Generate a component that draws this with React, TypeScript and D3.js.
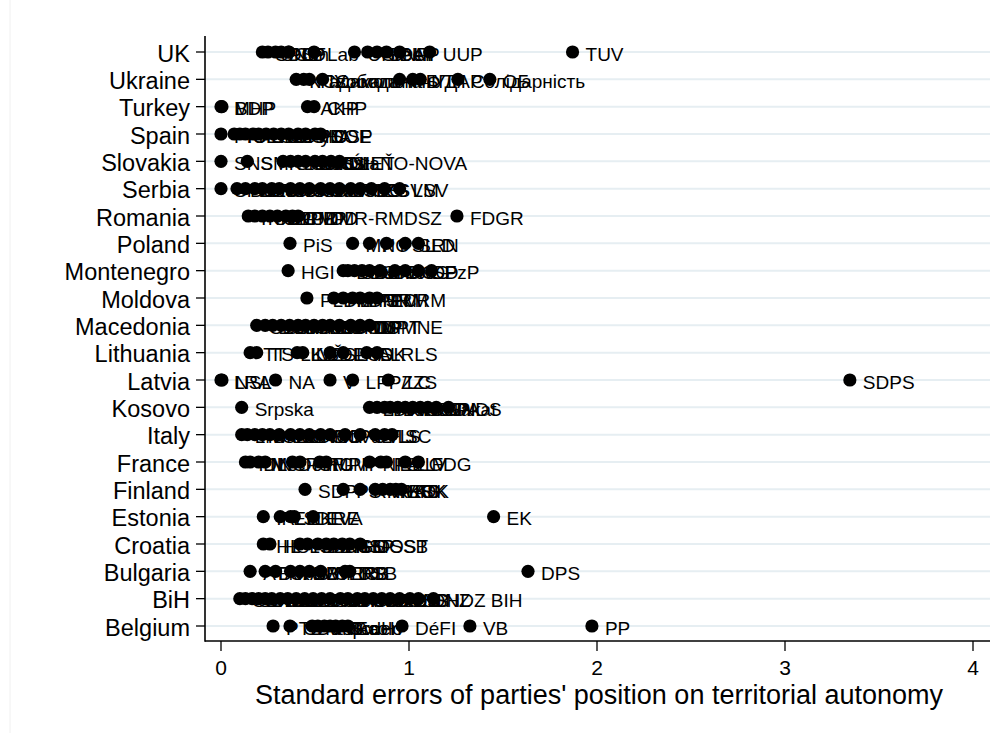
import { useEffect, useRef } from "react";
import * as d3 from "d3";

// countries, top to bottom as they appear on the y axis
const countries = [
  "UK", "Ukraine", "Turkey", "Spain", "Slovakia", "Serbia", "Romania", "Poland",
  "Montenegro", "Moldova", "Macedonia", "Lithuania", "Latvia", "Kosovo", "Italy",
  "France", "Finland", "Estonia", "Croatia", "Bulgaria", "BiH", "Belgium",
];

const xTicks = [0, 1, 2, 3, 4];
const xTitle = "Standard errors of parties' position on territorial autonomy";

// [party label, standard error]
const ukParties: [string, number][] = [
  ["SDLP", 0.22], ["SNP", 0.25], ["PC", 0.29], ["Con", 0.32], ["LD", 0.36],
  ["SF", 0.36], ["Lab", 0.495], ["UKIP", 0.71], ["Green", 0.78], ["BNP", 0.83],
  ["DUP", 0.88], ["All", 0.95], ["UUP", 1.11], ["TUV", 1.87],
];
const ukraineParties: [string, number][] = [
  ["КПУ", 0.4], ["Радикальна", 0.44], ["Свобода", 0.47], ["Самопоміч", 0.54],
  ["НФ", 0.95], ["БПП", 1.02], ["УДАР", 1.06], ["Солідарність", 1.26], ["ОБ", 1.43],
];
const turkeyParties: [string, number][] = [
  ["MHP", 0], ["BDP", 0.005], ["AKP", 0.46], ["CHP", 0.495],
];
const spainParties: [string, number][] = [
  ["PP", 0], ["IU", 0.07], ["CiU", 0.1], ["PNV", 0.13], ["ERC", 0.17], ["BNG", 0.2],
  ["CC", 0.24], ["EA", 0.28], ["UPyD", 0.32], ["Cs", 0.36], ["CHA", 0.41],
  ["PSOE", 0.45], ["IC", 0.5], ["DSP", 0.53],
];
const slovakiaParties: [string, number][] = [
  ["SNS", 0], ["SMK", 0.14], ["Smer", 0.33], ["ĽSNS", 0.37], ["SDKÚ", 0.41],
  ["SaS", 0.45], ["Most", 0.5], ["KDH", 0.54], ["SIEŤ", 0.63], ["OĽaNO-NOVA", 0.585],
];
const serbiaParties: [string, number][] = [
  ["SPS", 0], ["DS", 0.085], ["DSS", 0.13], ["SRS", 0.18], ["LDP", 0.22],
  ["URS", 0.27], ["SDPS", 0.31], ["SNS", 0.37], ["SVM", 0.42], ["SDA", 0.47],
  ["PUPS", 0.53], ["JS", 0.58], ["DJB", 0.63], ["SPO", 0.69], ["NS", 0.74],
  ["ZS", 0.8], ["SVM", 0.87], ["LSV", 0.95],
];
const romaniaParties: [string, number][] = [
  ["PSD", 0.145], ["PNL", 0.18], ["PDL", 0.22], ["UNPR", 0.26], ["PC", 0.3],
  ["PP-DD", 0.345], ["PMP", 0.38], ["UDMR-RMDSZ", 0.41], ["FDGR", 1.255],
];
const polandParties: [string, number][] = [
  ["PiS", 0.367], ["MN", 0.7], ["PO", 0.79], ["PSL", 0.88], ["SLD", 0.98], ["RN", 1.05],
];
const montenegroParties: [string, number][] = [
  ["HGI", 0.357], ["DPS", 0.65], ["SDP", 0.675], ["SNP", 0.71], ["Demos", 0.75],
  ["URA", 0.79], ["BS", 0.845], ["DCG", 0.925], ["NSD", 0.98], ["DF", 1.05], ["PzP", 1.12],
];
const moldovaParties: [string, number][] = [
  ["PLDM", 0.457], ["PL", 0.6], ["PDM", 0.65], ["PPEM", 0.7], ["PSRM", 0.74],
  ["PN", 0.79], ["PCRM", 0.83],
];
const macedoniaParties: [string, number][] = [
  ["SDSM", 0.19], ["DUI", 0.235], ["DPA", 0.275], ["LDP", 0.32], ["NSDP", 0.365],
  ["VMRO-DPMNE", 0.41], ["Besa", 0.45], ["NDP", 0.495], ["LP", 0.54], ["SPM", 0.58],
  ["DOM", 0.63], ["PDP", 0.69], ["DS", 0.74], ["DPT", 0.79],
];
const lithuaniaParties: [string, number][] = [
  ["TT", 0.155], ["TS-LKD", 0.19], ["LVŽS", 0.405], ["LSDP", 0.435], ["LLRA", 0.58],
  ["LCS", 0.65], ["DK", 0.775], ["LRLS", 0.83],
];
const latviaParties: [string, number][] = [
  ["LRA", 0], ["NSL", 0.005], ["NA", 0.29], ["V", 0.58], ["LPP/LC", 0.7],
  ["ZZS", 0.89], ["SDPS", 3.345],
];
const kosovoParties: [string, number][] = [
  ["Srpska", 0.11], ["LDK", 0.79], ["PDK", 0.83], ["AAK", 0.87], ["VV", 0.9],
  ["AKR", 0.94], ["KDTP", 0.98], ["SLS", 1.02], ["JGP", 1.06], ["SDA", 1.1],
  ["Vakat", 1.145], ["NDS", 1.21],
];
const italyParties: [string, number][] = [
  ["LN", 0.11], ["PD", 0.14], ["FI", 0.18], ["M5S", 0.22], ["SEL", 0.26],
  ["FdI", 0.31], ["UDC", 0.37], ["SVP", 0.42], ["NCD", 0.47], ["RC", 0.53],
  ["IdV", 0.58], ["PdL", 0.66], ["UV", 0.74], ["FLI", 0.82], ["LS", 0.87], ["SC", 0.91],
];
const franceParties: [string, number][] = [
  ["FN", 0.13], ["DLF", 0.155], ["MoDem", 0.2], ["NC", 0.235], ["PCF", 0.38],
  ["PRG", 0.42], ["MPF", 0.525], ["UMP", 0.56], ["NPA", 0.79], ["PS", 0.85],
  ["EELV", 0.88], ["LO", 0.98], ["FDG", 1.05],
];
const finlandParties: [string, number][] = [
  ["SDP", 0.447], ["PS", 0.65], ["RKP", 0.74], ["VIHR", 0.82], ["KESK", 0.86],
  ["VAS", 0.9], ["KOK", 0.93], ["KD", 0.96],
];
const estoniaParties: [string, number][] = [
  ["IRL", 0.225], ["ER", 0.315], ["SDE", 0.37], ["EKRE", 0.39], ["EVA", 0.49], ["EK", 1.45],
];
const croatiaParties: [string, number][] = [
  ["HL", 0.225], ["HSLS", 0.26], ["HDZ", 0.42], ["SDP", 0.46], ["HNS", 0.515],
  ["IDS", 0.56], ["HSS", 0.6], ["HSP", 0.645], ["HDSSB", 0.685], ["MOST", 0.74],
];
const bulgariaParties: [string, number][] = [
  ["ATAKA", 0.155], ["BSP", 0.235], ["NFSB", 0.29], ["ABV", 0.37], ["BBT", 0.42],
  ["VMRO", 0.47], ["GERB", 0.53], ["DSB", 0.66], ["RB", 0.685], ["DPS", 1.633],
];
const bihParties: [string, number][] = [
  ["SDA", 0.1], ["SDP", 0.13], ["SNSD", 0.165], ["SDS", 0.2], ["PDP", 0.235],
  ["HDZ 1990", 0.27], ["SBB", 0.315], ["DF", 0.355], ["NS", 0.4], ["BPS", 0.445],
  ["DNS", 0.49], ["SBiH", 0.535], ["NDP", 0.58], ["A-SDA", 0.635], ["HSP", 0.675],
  ["HSS", 0.725], ["NSRzB", 0.765], ["SP", 0.81], ["BOSS", 0.855], ["LDS", 0.9],
  ["GS", 0.95], ["NB", 1.005], ["DNZ", 1.05], ["HDZ BIH", 1.13],
];
const belgiumParties: [string, number][] = [
  ["PTB", 0.277], ["CD&V", 0.367], ["N-VA", 0.485], ["MR", 0.515], ["PS", 0.55],
  ["sp.a", 0.58], ["Groen", 0.61], ["Ecolo", 0.645], ["cdH", 0.675], ["DéFI", 0.963],
  ["VB", 1.324], ["PP", 1.973],
];

const partiesByCountry: [string, [string, number][]][] = [
  ["UK", ukParties], ["Ukraine", ukraineParties], ["Turkey", turkeyParties],
  ["Spain", spainParties], ["Slovakia", slovakiaParties], ["Serbia", serbiaParties],
  ["Romania", romaniaParties], ["Poland", polandParties], ["Montenegro", montenegroParties],
  ["Moldova", moldovaParties], ["Macedonia", macedoniaParties], ["Lithuania", lithuaniaParties],
  ["Latvia", latviaParties], ["Kosovo", kosovoParties], ["Italy", italyParties],
  ["France", franceParties], ["Finland", finlandParties], ["Estonia", estoniaParties],
  ["Croatia", croatiaParties], ["Bulgaria", bulgariaParties], ["BiH", bihParties],
  ["Belgium", belgiumParties],
];

const FONT = "'Liberation Sans', Arial, Helvetica, sans-serif";

export default function App() {
  const svgRef = useRef<SVGSVGElement>(null);

  useEffect(() => {
    if (!svgRef.current) return;
    const svg = d3.select(svgRef.current);
    svg.selectAll("*").remove();

    const width = 1002;
    const height = 733;
    const axisX = 205; // y axis line
    const axisY = 641; // x axis line
    const plotRight = 990;

    svg.attr("width", width).attr("height", height)
      .attr("style", `background: white; font-family: ${FONT};`);

    const x = d3.scaleLinear().domain([0, 4]).range([221, 973]);
    const y = d3.scalePoint<string>().domain(countries).range([52, 626]);

    // faint outer frame edge
    svg.append("line")
      .attr("x1", 10).attr("x2", 10).attr("y1", 0).attr("y2", height)
      .attr("stroke", "#f0f0f0").attr("stroke-width", 1);

    // ── gridlines per country ───────────────────────────
    countries.forEach((c) => {
      svg.append("line")
        .attr("x1", axisX).attr("x2", plotRight)
        .attr("y1", y(c)!).attr("y2", y(c)!)
        .attr("stroke", "#e6eef2").attr("stroke-width", 2);
    });

    // ── axes ────────────────────────────────────────────
    svg.append("line")
      .attr("x1", axisX).attr("x2", axisX).attr("y1", 36).attr("y2", axisY + 0.8)
      .attr("stroke", "#000").attr("stroke-width", 1.6);
    svg.append("line")
      .attr("x1", axisX).attr("x2", plotRight).attr("y1", axisY).attr("y2", axisY)
      .attr("stroke", "#000").attr("stroke-width", 1.6);

    countries.forEach((c) => {
      svg.append("line")
        .attr("x1", 196).attr("x2", axisX).attr("y1", y(c)!).attr("y2", y(c)!)
        .attr("stroke", "#000").attr("stroke-width", 1.3);
      svg.append("text")
        .attr("x", 190).attr("y", y(c)! + 9.5)
        .attr("text-anchor", "end")
        .attr("font-size", 23.5)
        .attr("fill", "#000")
        .text(c);
    });

    xTicks.forEach((t) => {
      svg.append("line")
        .attr("x1", x(t)).attr("x2", x(t)).attr("y1", axisY).attr("y2", axisY + 10)
        .attr("stroke", "#000").attr("stroke-width", 1.3);
      svg.append("text")
        .attr("x", x(t)).attr("y", 675)
        .attr("text-anchor", "middle")
        .attr("font-size", 21)
        .attr("fill", "#000")
        .text(t);
    });

    svg.append("text")
      .attr("x", 599).attr("y", 704)
      .attr("text-anchor", "middle")
      .attr("font-size", 27)
      .attr("fill", "#000")
      .text(xTitle);

    // ── markers and party labels ────────────────────────
    partiesByCountry.forEach(([country, parties]) => {
      const cy = y(country)!;
      parties.forEach(([name, se]) => {
        const cx = x(se);
        svg.append("circle")
          .attr("cx", cx).attr("cy", cy).attr("r", 6.6)
          .attr("fill", "#000");
        svg.append("text")
          .attr("x", cx + 13).attr("y", cy + 8.5)
          .attr("font-size", 19)
          .attr("fill", "#000")
          .text(name);
      });
    });
  }, []);

  return (
    <div style={{ position: "absolute", left: 0, top: 0 }}>
      <svg ref={svgRef} />
    </div>
  );
}
